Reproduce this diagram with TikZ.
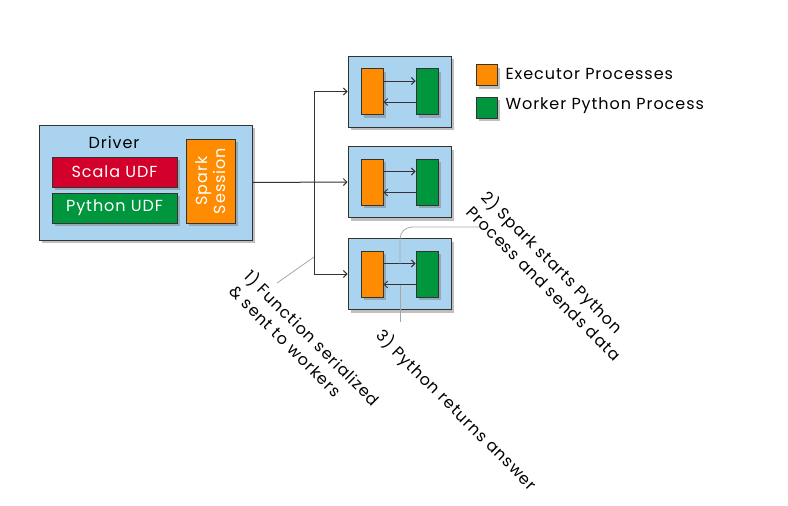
\documentclass[tikz,border=0pt]{standalone}
\usepackage{fontspec}
\setmainfont{Poppins}[LetterSpace=6]
\usetikzlibrary{shadows,arrows.meta}
\definecolor{boxblue}{HTML}{A9D3EE}
\definecolor{exorange}{HTML}{FF8C00}
\definecolor{pygreen}{HTML}{00963D}
\definecolor{udfred}{HTML}{D2002A}
\definecolor{edge}{HTML}{333333}
\begin{document}
\begin{tikzpicture}[x=1pt,y=-1pt,
    font=\fontsize{16}{21}\selectfont,
    shade/.style={drop shadow={shadow xshift=3pt,shadow yshift=-3pt,opacity=0.5}},
    box/.style={draw=edge,line width=1pt,shade,inner sep=0pt},
    hostbox/.style={box,fill=boxblue,minimum width=103pt,minimum height=71pt},
    exbox/.style={box,fill=exorange,minimum width=22pt,minimum height=46pt},
    pybox/.style={box,fill=pygreen,minimum width=22pt,minimum height=46pt},
    keybox/.style={box,minimum width=21pt,minimum height=21pt},
    udfbox/.style={box,text=white,minimum width=125pt,minimum height=30pt},
    link/.style={-{Straight Barb[length=3.5pt,width=7pt]},draw=edge,line width=1pt},
    callout/.style={draw=gray!70,line width=0.8pt},
    note/.style={rotate=-45,anchor=north west,align=left,inner sep=0pt}]
    \useasboundingbox (0,0) rectangle (788,506);
    % driver
    \node[box,fill=boxblue,minimum width=213pt,minimum height=115pt] (driver) at (145.5,182.5) {};
    \node (drivertext) at (114,142) {Driver};
    \node[udfbox,fill=udfred] (scala) at (114.5,172) {Scala UDF};
    \node[udfbox,fill=pygreen] (python) at (114.5,208) {Python UDF};
    \node[box,fill=exorange,text=white,minimum width=49pt,minimum height=84pt] (session) at (210.5,181) {};
    \node[rotate=90,align=center,text=white,font=\fontsize{16}{18}\selectfont] (sessiontext) at (session.center) {Spark\\Session};
    % executors
    \foreach \i/\y in {1/91.5,2/182,3/274}{
        \node[hostbox] (ex\i) at (399.5,\y) {};
        \node[exbox] (or\i) at (372,\y) {};
        \node[pybox] (py\i) at (427,\y) {};
        \draw[link] ([yshift=10.5pt]or\i.east) -- ([yshift=10.5pt]py\i.west);
        \draw[link] ([yshift=-10.5pt]py\i.west) -- ([yshift=-10.5pt]or\i.east);
    }
    % driver to executors
    \coordinate (split) at (314,182.5);
    \draw[link] (driver.east) -- (ex2.west);
    \draw[link] (split) |- (ex1.west);
    \draw[link] (split) |- (ex3.west);
    % legend
    \node[keybox,fill=exorange] (keyex) at (486.5,75) {};
    \node[anchor=west] (keyextext) at (502,74) {Executor Processes};
    \node[keybox,fill=pygreen] (keypy) at (486.5,107.5) {};
    \node[anchor=west] (keypytext) at (502,106) {Worker Python Process};
    % callouts
    \coordinate (c1a) at (277,283);
    \coordinate (c1b) at (314,257);
    \coordinate (c2a) at (480,227);
    \coordinate (c2b) at (400,263.5);
    \coordinate (c3a) at (400,322);
    \coordinate (c3b) at (400,285);
    \draw[callout] (c1a) -- (c1b);
    \draw[callout,rounded corners=12pt] (c2a) -| (c2b);
    \draw[callout] (c3a) -- (c3b);
    \node[note] (note1) at (254,267) {1) Function serialized\\\& sent to workers};
    \node[note] (note2) at (491,188) {2) Spark starts Python\\Process and sends data};
    \node[note] (note3) at (386,326) {3) Python returns answer};
\end{tikzpicture}
\end{document}
